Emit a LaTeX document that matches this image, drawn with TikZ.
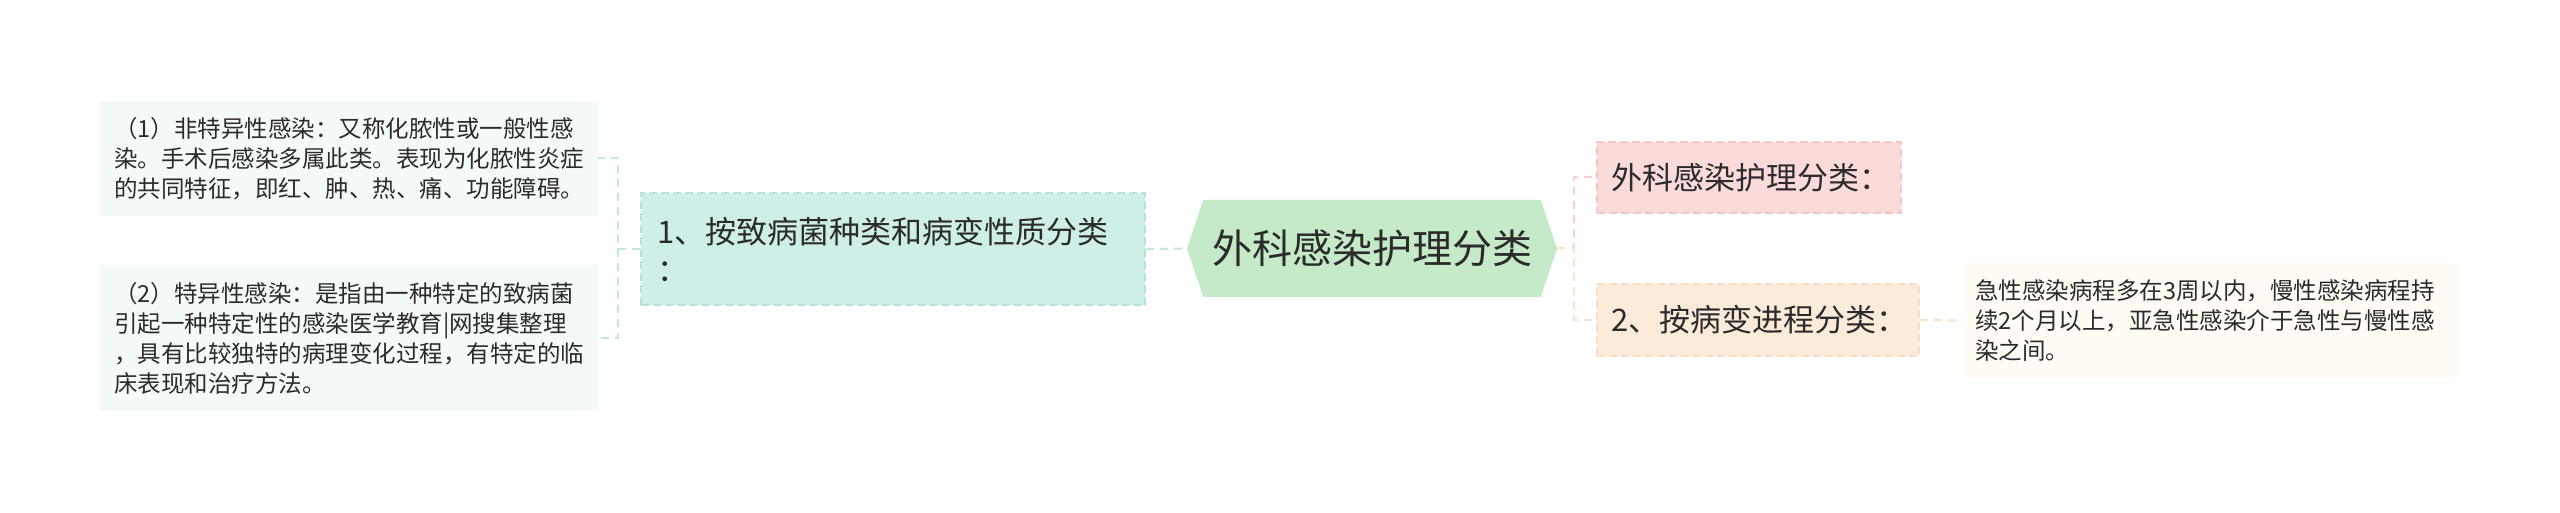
\documentclass[tikz,border=0pt]{standalone}
\usepackage{fontspec}
\newfontfamily\cjk{Noto Sans CJK SC}
\usetikzlibrary{shapes.symbols,calc}
\definecolor{txt}{HTML}{2B2B2B}
\definecolor{leaffill}{HTML}{F4FAFA}
\definecolor{tealfill}{HTML}{CDEFE8}
\definecolor{tealdraw}{HTML}{B7E3DA}
\definecolor{tealline}{HTML}{C3E7E0}
\definecolor{hexfill}{HTML}{C5EAC7}
\definecolor{pinkfill}{HTML}{FBDADA}
\definecolor{pinkdraw}{HTML}{F5C6C6}
\definecolor{pinkline}{HTML}{F6CFCF}
\definecolor{peachfill}{HTML}{FDEBDA}
\definecolor{peachdraw}{HTML}{F9DCC4}
\definecolor{peachline}{HTML}{FBE0CB}
\definecolor{creamfill}{HTML}{FFFBF5}
\tikzset{
  leaf/.style={font={\cjk\fontsize{11.75pt}{15pt}\selectfont}, text=txt, inner sep=0pt, align=left},
  lvlone/.style={font={\cjk\fontsize{15.5pt}{19pt}\selectfont}, text=txt, inner sep=0pt, align=left, dashed, dash pattern=on 4pt off 2pt, line width=0.8pt},
  hexa/.style={signal, signal to=east and west, signal pointer angle=143, fill=hexfill, draw=none, text=txt,
    font={\cjk\fontsize{20pt}{24pt}\selectfont}, inner sep=0pt, minimum width=185pt, minimum height=48.5pt},
  conn/.style={line width=1pt, dash pattern=on 4pt off 3pt},
}
\begin{document}
\begin{tikzpicture}[x=0.5pt,y=-0.5pt]
\useasboundingbox[fill=white] (0,0) rectangle (2560,513);

% left leaves
\node[leaf, fill=leaffill, minimum width=249pt, minimum height=57.5pt, text width=235pt] (l1) at (349,158.5)
  {（1）非特异性感染：又称化脓性或一般性感\\染。手术后感染多属此类。表现为化脓性炎症\\的共同特征，即红、肿、热、痛、功能障碍。};
\node[leaf, fill=leaffill, minimum width=249pt, minimum height=73pt, text width=235pt] (l2) at (349,338)
  {（2）特异性感染：是指由一种特定的致病菌\\引起一种特定性的感染医学教育|网搜集整理\\，具有比较独特的病理变化过程，有特定的临\\床表现和治疗方法。};

% level one left
\node[lvlone, fill=tealfill, draw=tealdraw, minimum width=252pt, minimum height=56pt, text width=236pt] (b1) at (893,249)
  {1、按致病菌种类和病变性质分类\\：};

% center
\node[hexa] (hex) at (1372,248.5) {外科感染护理分类};

% level one right
\node[lvlone, fill=pinkfill, draw=pinkdraw, minimum width=152pt, minimum height=35.5pt, text width=138pt] (r1) at (1749,177.5)
  {外科感染护理分类：};
\node[lvlone, fill=peachfill, draw=peachdraw, minimum width=161pt, minimum height=36pt, text width=147pt] (r2) at (1758,320)
  {2、按病变进程分类：};

% right leaf
\node[leaf, fill=creamfill, minimum width=248pt, minimum height=57.5pt, text width=236pt] (r3) at (2211,320.5)
  {急性感染病程多在3周以内，慢性感染病程持\\续2个月以上，亚急性感染介于急性与慢性感\\染之间。};

% connectors
\draw[conn, tealline] (b1.east) -- (hex.west);
\draw[conn, tealline] (b1.west) -- ++(-22,0) coordinate (lj) |- (l1.east);
\draw[conn, tealline] (lj) |- (l2.east);
\draw[conn, pinkline] (hex.east) -- ++(17,0) coordinate (rj) |- (r1.west);
\draw[conn, peachline] (hex.east) -- (rj) |- (r2.west);
\draw[conn, peachline] (r2.east) -- (r3.west);
\end{tikzpicture}
\end{document}
